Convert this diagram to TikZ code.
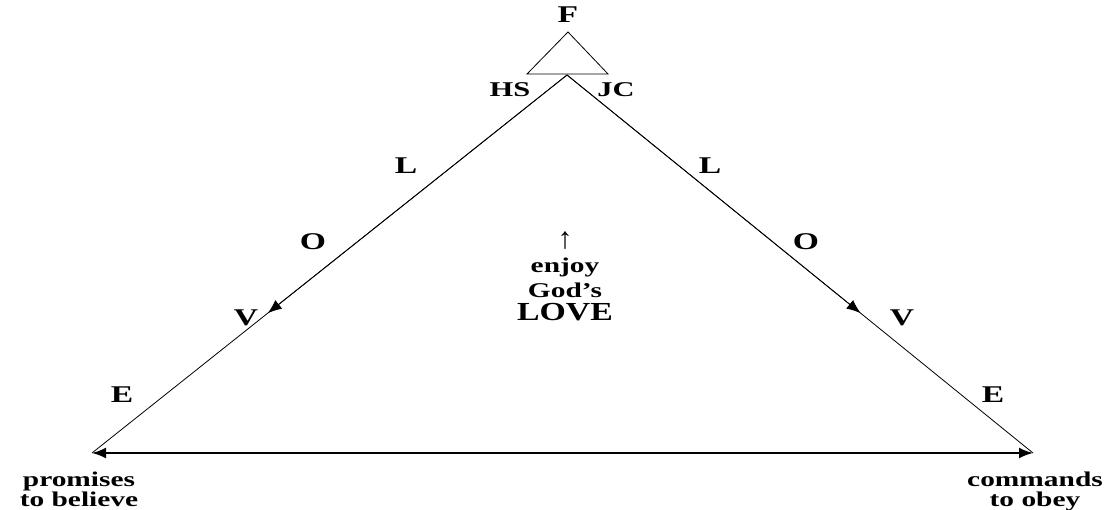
\documentclass[tikz,border=0pt]{standalone}
\usepackage{fontspec}
\usepackage{graphicx}
\setmainfont{Liberation Serif}
\usetikzlibrary{arrows.meta,calc}
\newcommand{\wtext}[2][1.4]{\scalebox{#1}[1]{#2}}
\begin{document}
\begin{tikzpicture}[x=1pt,y=-1pt,
  lab/.style={font=\fontsize{24}{24}\selectfont\bfseries, inner sep=0pt},
  small/.style={font=\fontsize{21}{17}\selectfont\bfseries, inner sep=0pt},
  side/.style={line width=0.8pt, draw=black},
  tip/.style={-{Latex[length=14pt,width=11pt]}, line width=0.8pt}]
\useasboundingbox (0,0) rectangle (1109,510);
% big triangle corners
\coordinate (apex) at (567,75);
\coordinate (bl) at (92,453);
\coordinate (br) at (1033,453);
\coordinate (mL) at ($(apex)!0.63!(bl)$);
\coordinate (mR) at ($(apex)!0.63!(br)$);
% small triangle
\coordinate (st) at (568,32);
\coordinate (sl) at (527,74);
\coordinate (sr) at (608,74);
\draw[side] (st) -- (sl) -- (sr) -- cycle;
% sides
\draw[side] (apex) -- (bl);
\draw[side] (apex) -- (br);
\draw[tip] (apex) -- (mL);
\draw[tip] (apex) -- (mR);
% base
\draw[{Latex[length=14pt,width=11pt]}-{Latex[length=14pt,width=11pt]}, line width=2pt] (bl) -- (br);
% labels
\node[lab] (F) at (568,15) {\wtext{F}};
\node[lab, font=\fontsize{21}{22}\selectfont\bfseries] (HS) at (510,90) {\wtext[1.45]{HS}};
\node[lab, font=\fontsize{21}{22}\selectfont\bfseries] (JC) at (616,90) {\wtext[1.45]{JC}};
\node[lab] (L1) at (406,166) {\wtext{L}};
\node[lab] (O1) at (313,242) {\wtext{O}};
\node[lab] (V1) at (246,318) {\wtext{V}};
\node[lab] (E1) at (122,395) {\wtext{E}};
\node[lab] (L2) at (710,166) {\wtext{L}};
\node[lab] (O2) at (806,242) {\wtext{O}};
\node[lab] (V2) at (902,318) {\wtext{V}};
\node[lab] (E2) at (993,395) {\wtext{E}};
\node[inner sep=0pt, font=\fontsize{30}{30}\selectfont] (up) at (565,241) {↑};
\node[small] (enjoy) at (565,267) {\wtext{enjoy}};
\node[small] (gods) at (565,290) {\wtext{God’s}};
\node[lab, font=\fontsize{26}{26}\selectfont\bfseries] (love) at (565,312) {\wtext[1.3]{LOVE}};
\node[small] (prom) at (79,492) {\wtext{\begin{tabular}{@{}c@{}}promises\\to believe\end{tabular}}};
\node[small] (cmd) at (1035,492) {\wtext{\begin{tabular}{@{}c@{}}commands\\to obey\end{tabular}}};
\end{tikzpicture}
\end{document}
